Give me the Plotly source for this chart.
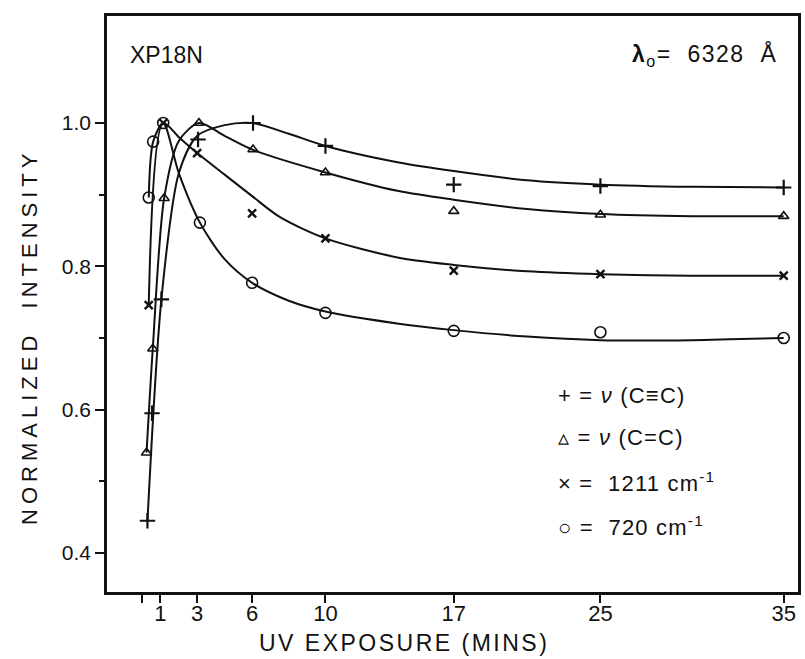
import plotly.graph_objects as go

plus_x = [0.29, 0.54, 1.05, 3.05, 6.05, 10, 17, 25, 35]
plus_y = [0.445, 0.595, 0.754, 0.977, 1.0, 0.968, 0.914, 0.912, 0.910]

tri_x = [0.24, 0.58, 1.2, 3.1, 6.05, 10, 17, 25, 35]
tri_y = [0.54, 0.685, 0.895, 1.0, 0.963, 0.931, 0.877, 0.872, 0.870]

cross_x = [0.36, 1.15, 3.0, 6.0, 10, 17, 25, 35]
cross_y = [0.746, 1.0, 0.958, 0.874, 0.839, 0.794, 0.789, 0.787]

circ_x = [0.36, 0.6, 1.15, 3.15, 6.0, 10, 17, 25, 35]
circ_y = [0.896, 0.974, 1.0, 0.861, 0.777, 0.735, 0.710, 0.708, 0.700]

# ---- hand-drawn smooth curves (knots) ----
plus_fx = [0.29, 1.05, 2.0, 3.0, 4.5, 6.0, 8.0, 10, 14, 17, 21, 25, 30, 35]
plus_fy = [0.445, 0.754, 0.93, 0.982, 0.997, 1.0, 0.985, 0.968, 0.945, 0.933, 0.92, 0.914, 0.911, 0.910]

tri_fx = [0.24, 0.58, 1.2, 2.0, 3.1, 4.5, 6.0, 10, 14, 17, 21, 25, 30, 35]
tri_fy = [0.54, 0.685, 0.895, 0.975, 1.0, 0.982, 0.963, 0.931, 0.905, 0.893, 0.88, 0.873, 0.870, 0.870]

cross_fx = [0.36, 1.15, 2.05, 3.0, 4.5, 6.0, 7.5, 10, 14, 17, 21, 25, 30, 35]
cross_fy = [0.746, 1.0, 0.979, 0.958, 0.928, 0.898, 0.869, 0.839, 0.812, 0.802, 0.793, 0.789, 0.787, 0.787]

circ_fx = [0.36, 0.6, 1.15, 2.0, 3.15, 4.5, 6.0, 8.0, 10, 14, 17, 21, 25, 30, 35]
circ_fy = [0.896, 0.974, 1.0, 0.93, 0.861, 0.81, 0.777, 0.752, 0.737, 0.72, 0.711, 0.702, 0.697, 0.697, 0.700]

x_tickvals = [0, 1, 3, 6, 10, 17, 25, 35]
x_ticktext = ["", "1", "3", "6", "10", "17", "25", "35"]
y_tickvals = [0.4, 0.6, 0.8, 1.0]
y_ticktext = ["0.4", "0.6", "0.8", "1.0"]

legend_labels = [
    "+ = <i>ν</i> (C≡C)",
    "▵ = <i>ν</i> (C=C)",
    "× =  1211 cm<sup>-1</sup>",
    "○ =  720 cm<sup>-1</sup>",
]

FONT = "Liberation Sans, Arial, Helvetica, sans-serif"
BLACK = "#111111"


def spaced(txt, px):
    return '<span style="letter-spacing:%spx">%s</span>' % (px, txt)


fig = go.Figure()

for fx, fy in [(plus_fx, plus_fy), (tri_fx, tri_fy), (cross_fx, cross_fy), (circ_fx, circ_fy)]:
    fig.add_trace(go.Scatter(x=fx, y=fy, mode="lines",
                             line=dict(color=BLACK, width=2, shape="spline", smoothing=0.8),
                             hoverinfo="skip", showlegend=False))

fig.add_trace(go.Scatter(x=plus_x, y=plus_y, mode="markers",
                         marker=dict(symbol="cross-thin", size=11, line=dict(color=BLACK, width=2.2)),
                         showlegend=False))
fig.add_trace(go.Scatter(x=tri_x, y=tri_y, mode="markers",
                         marker=dict(symbol="triangle-up-open", size=9, color=BLACK, line=dict(color=BLACK, width=1.6)),
                         showlegend=False))
fig.add_trace(go.Scatter(x=cross_x, y=cross_y, mode="markers",
                         marker=dict(symbol="x-thin", size=8, line=dict(color=BLACK, width=2.4)),
                         showlegend=False))
fig.add_trace(go.Scatter(x=circ_x, y=circ_y, mode="markers",
                         marker=dict(symbol="circle-open", size=11, color=BLACK, line=dict(color=BLACK, width=1.6)),
                         showlegend=False))

fig.update_layout(
    width=805, height=659,
    margin=dict(l=107, r=4, t=16, b=67),
    paper_bgcolor="white", plot_bgcolor="white",
    font=dict(family=FONT, color=BLACK, size=22),
    showlegend=False,
)

fig.update_xaxes(
    range=[-1.917, 35.78], tickmode="array", tickvals=x_tickvals, ticktext=x_ticktext,
    ticks="outside", ticklen=8, tickwidth=2, tickcolor=BLACK, ticklabelstandoff=-8,
    showline=True, linewidth=2.5, linecolor=BLACK, mirror=True,
    showgrid=False, zeroline=False,
    tickfont=dict(size=22, family=FONT),
)
fig.update_yaxes(
    range=[0.3456, 1.1493], tickmode="array", tickvals=y_tickvals, ticktext=y_ticktext,
    ticks="outside", ticklen=9, tickwidth=2, tickcolor=BLACK,
    minor=dict(tickvals=[0.5, 0.7, 0.9], ticks="outside", ticklen=5, tickwidth=2, tickcolor=BLACK),
    showline=True, linewidth=2.5, linecolor=BLACK, mirror=True,
    showgrid=False, zeroline=False,
    tickfont=dict(size=21, family=FONT),
)

# axis titles as annotations (placed as in the reference)
fig.add_annotation(xref="paper", yref="paper", x=0.4294, y=-0.0885, xanchor="center", yanchor="middle",
                   text=spaced("UV EXPOSURE (MINS)", 2.5), showarrow=False, font=dict(size=23, family=FONT))
fig.add_annotation(xref="paper", yref="paper", x=-0.113, y=0.4427, xanchor="center", yanchor="middle",
                   textangle=-90, text=spaced("NORMALIZED  INTENSITY", 5), showarrow=False,
                   font=dict(size=22, family=FONT))

fig.add_annotation(xref="paper", yref="paper", x=0.030, y=0.932, xanchor="left", yanchor="middle",
                   text="XP18N", showarrow=False, font=dict(size=23, family=FONT))
fig.add_annotation(xref="paper", yref="paper", x=0.972, y=0.932, xanchor="right", yanchor="middle",
                   text=spaced("<b>λ</b><sub>o</sub>=  6328  Å", 1.5), showarrow=False, font=dict(size=23, family=FONT))

legend_y = [0.342, 0.269, 0.191, 0.115]
for lab, ly in zip(legend_labels, legend_y):
    fig.add_annotation(xref="paper", yref="paper", x=0.650, y=ly, xanchor="left", yanchor="middle",
                       text=spaced(lab, 1.2), showarrow=False, font=dict(size=22, family=FONT))

fig.write_html("out.html")
